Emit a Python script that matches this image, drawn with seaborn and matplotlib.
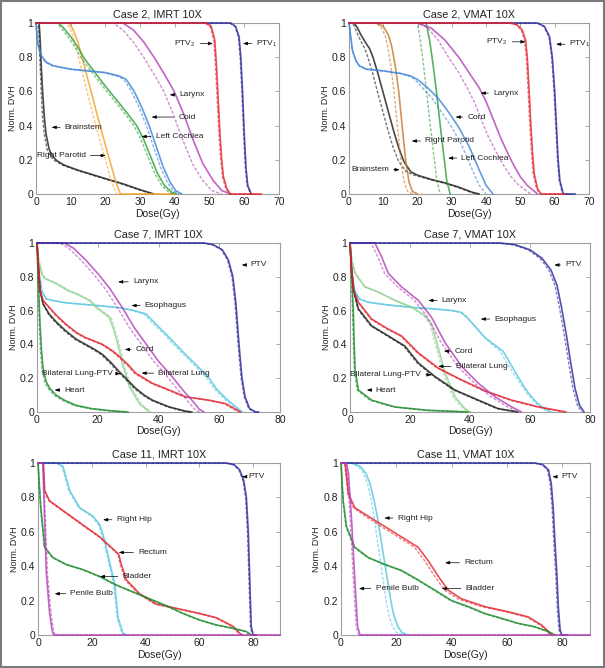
import numpy as np
import matplotlib
matplotlib.use("Agg")
import matplotlib.pyplot as plt
from matplotlib.patches import Rectangle
import seaborn as sns

# DVH curves: v = normalized DVH, d = dose (solid), dd = dose (dashed)

# ---- Case 2, IMRT ----
c2i_brainstem_v = [1, 1, 0.9, 0.75, 0.6, 0.45, 0.35, 0.26, 0.22, 0.195, 0.17, 0.14, 0.115, 0.09, 0.06, 0.025, 0]
c2i_brainstem_d = [0, 0.9, 1.2, 1.5, 1.9, 2.4, 2.9, 3.8, 4.8, 6, 8, 12, 16, 20, 25, 30, 34]
c2i_brainstem_dd = [0, 0.6, 0.9, 1.2, 1.5, 1.9, 2.4, 3.2, 4.2, 5.4, 7.5, 11.5, 15.5, 19.5, 24.5, 29.5, 33.5]
c2i_parotid_v = [1, 1, 0.97, 0.88, 0.72, 0.55, 0.38, 0.22, 0.07, 0, 0]
c2i_parotid_d = [0, 9.5, 10.5, 12.2, 14.3, 16.5, 18.7, 20.9, 23, 24.3, 40]
c2i_parotid_dd = [0, 8.8, 9.8, 11.3, 13.2, 15.3, 17.5, 19.7, 21.8, 23.2, 40]
c2i_cochlea_v = [1, 1, 0.97, 0.92, 0.86, 0.79, 0.71, 0.63, 0.555, 0.48, 0.40, 0.32, 0.22, 0.12, 0.05, 0.012, 0]
c2i_cochlea_d = [0, 6.5, 8, 10, 12, 14, 17, 20, 23, 26, 29, 31, 33, 35, 37, 39, 40.5]
c2i_cochlea_dd = [0, 6, 7.3, 9.2, 11.2, 13.2, 16.2, 19.2, 22.2, 25.2, 28.2, 30.2, 32.2, 34.2, 36.2, 38.2, 39.7]
c2i_cord_v = [1, 0.88, 0.81, 0.77, 0.75, 0.73, 0.72, 0.71, 0.69, 0.67, 0.6, 0.5, 0.4, 0.28, 0.16, 0.07, 0.02, 0]
c2i_cord_d = [0, 0.5, 1.5, 3, 5, 10, 15, 20, 24, 26, 28.3, 30.6, 32.6, 34.6, 36.6, 38.6, 40.2, 42]
c2i_cord_dd = [0, 0.4, 1.3, 2.7, 4.6, 9.5, 14.5, 19.5, 23.3, 25.3, 27.5, 29.8, 31.8, 33.8, 35.8, 37.8, 39.4, 41.2]
c2i_larynx_v = [1, 1, 0.96, 0.89, 0.8, 0.7, 0.6, 0.47, 0.32, 0.18, 0.08, 0.02, 0]
c2i_larynx_d = [0, 25, 28, 31, 34, 37, 39.8, 42.5, 45.2, 48, 51, 53.5, 56]
c2i_larynx_dd = [0, 22.2, 25, 28, 31, 34, 36.8, 39.5, 42.2, 45, 48, 50.7, 53.5]
c2i_ptv2_v = [1, 1, 0.98, 0.9, 0.75, 0.55, 0.35, 0.2, 0.1, 0.03, 0, 0]
c2i_ptv2_d = [0, 49, 50.5, 51.5, 52, 52.5, 53, 53.5, 54, 55, 56, 65]
c2i_ptv2_dd = [0, 48.7, 50.2, 51.2, 51.7, 52.2, 52.7, 53.2, 53.7, 54.7, 55.7, 64]
c2i_ptv1_v = [1, 1, 0.98, 0.92, 0.8, 0.6, 0.35, 0.15, 0.05, 0]
c2i_ptv1_d = [0, 56, 57.5, 58.5, 59, 59.5, 60, 60.5, 61, 62]
c2i_ptv1_dd = [0, 55.8, 57.3, 58.3, 58.8, 59.3, 59.8, 60.3, 60.8, 61.8]

# ---- Case 2, VMAT ----
c2v_brainstem_v = [1, 1, 0.97, 0.93, 0.88, 0.85, 0.8, 0.7, 0.59, 0.48, 0.37, 0.27, 0.19, 0.13, 0.11, 0.085, 0.065, 0.04, 0.01, 0]
c2v_brainstem_d = [0, 1.5, 2.5, 3.5, 5, 6, 7, 8.5, 10, 11.5, 13, 14.5, 16, 18, 20, 24, 28, 32, 36, 38]
c2v_brainstem_dd = [0, 1, 1.8, 2.6, 3.8, 4.6, 5.5, 7, 8.4, 9.9, 11.4, 12.9, 14.5, 16.7, 19, 23.5, 27.5, 31.5, 35.5, 37.5]
c2v_parotid_v = [1, 1, 0.98, 0.93, 0.86, 0.75, 0.6, 0.4, 0.2, 0.07, 0.015, 0]
c2v_parotid_d = [0, 8, 10, 11.5, 12.5, 13.5, 14.5, 15.5, 16.5, 17.5, 18.5, 20]
c2v_parotid_dd = [0, 7.5, 9.2, 10.5, 11.3, 12.2, 13.1, 14.1, 15.1, 16.1, 17.1, 18.5]
c2v_cochlea_v = [1, 1, 0.9, 0.76, 0.6, 0.42, 0.25, 0.08, 0]
c2v_cochlea_d = [0, 22.5, 23.5, 24.5, 25.5, 26.5, 27.5, 28.5, 29.5]
c2v_cochlea_dd = [0, 20, 20.8, 21.7, 22.6, 23.6, 24.6, 25.6, 26.6]
c2v_cord_v = [1, 0.92, 0.84, 0.78, 0.75, 0.73, 0.72, 0.705, 0.69, 0.67, 0.62, 0.56, 0.48, 0.39, 0.28, 0.14, 0.05, 0]
c2v_cord_d = [0, 0.5, 1, 2, 3, 5, 10, 15, 18, 20, 23, 26, 29, 32, 35, 38, 40, 42]
c2v_cord_dd = [0, 0.5, 1, 2, 3, 5, 10, 15, 17.5, 19.2, 21.5, 24.2, 27, 30, 33, 36, 38, 40]
c2v_larynx_v = [1, 1, 0.97, 0.9, 0.8, 0.71, 0.62, 0.54, 0.44, 0.34, 0.25, 0.17, 0.1, 0.05, 0]
c2v_larynx_d = [0, 20, 24, 28, 32, 35, 38, 40, 42, 44, 46, 48, 50, 52, 55]
c2v_larynx_dd = [0, 20, 23, 26, 29, 32, 34.5, 36.5, 38.5, 40.5, 42.8, 45, 47.3, 49.6, 53]
c2v_ptv2_v = [1, 1, 0.99, 0.96, 0.9, 0.8, 0.62, 0.42, 0.25, 0.12, 0.03, 0, 0]
c2v_ptv2_d = [0, 47, 49, 50.5, 51.5, 52, 52.5, 53, 53.5, 54, 55, 56, 63]
c2v_ptv2_dd = [0, 46.7, 48.7, 50.2, 51.2, 51.7, 52.2, 52.7, 53.2, 53.7, 54.7, 55.7, 62]
c2v_ptv1_v = [1, 1, 0.98, 0.92, 0.8, 0.6, 0.4, 0.2, 0.08, 0, 0]
c2v_ptv1_d = [0, 55, 57, 58.5, 59.3, 60, 60.5, 61, 61.5, 62.5, 66]
c2v_ptv1_dd = [0, 54.8, 56.8, 58.3, 59.1, 59.8, 60.3, 60.8, 61.3, 62.3, 65]

# ---- Case 7, IMRT ----
c7i_ptv_v = [1, 1, 0.99, 0.96, 0.9, 0.8, 0.64, 0.4, 0.2, 0.09, 0.02, 0, 0]
c7i_ptv_d = [0, 55, 58, 61, 63, 64.5, 65.5, 66.5, 67.5, 68.5, 70, 72, 73]
c7i_ptv_dd = [0, 54.7, 57.7, 60.7, 62.7, 64.2, 65.2, 66.2, 67.2, 68.2, 69.7, 71.5, 73]
c7i_larynx_v = [1, 1, 0.97, 0.9, 0.82, 0.73, 0.62, 0.5, 0.4, 0.3, 0.22, 0.13, 0.07, 0.015, 0]
c7i_larynx_d = [0, 9, 12, 16, 20, 24, 28, 32, 36, 40, 44, 48, 51, 53.5, 55]
c7i_larynx_dd = [0, 7.5, 10.4, 14.4, 18.4, 22.4, 26.4, 30.4, 34.4, 38.4, 42.4, 46.4, 49.4, 52, 53.5]
c7i_esoph_v = [1, 0.85, 0.72, 0.67, 0.66, 0.645, 0.63, 0.615, 0.6, 0.58, 0.53, 0.48, 0.44, 0.4, 0.35, 0.3, 0.25, 0.2, 0.14, 0.08, 0.03, 0]
c7i_esoph_d = [0, 0.5, 1.5, 3, 5, 10, 20, 28, 32, 35.9, 38.6, 41.4, 43.6, 45.7, 48.4, 51.2, 54, 56.7, 58.9, 62.2, 65.5, 67.6]
c7i_esoph_dd = [0, 0.5, 1.5, 3, 5, 10, 20, 27.5, 31.4, 35.2, 37.9, 40.7, 42.9, 45, 47.7, 50.5, 53.3, 56, 58.2, 61.5, 64.8, 67]
c7i_cord_v = [1, 0.9, 0.82, 0.79, 0.76, 0.72, 0.7, 0.66, 0.62, 0.59, 0.56, 0.5, 0.44, 0.36, 0.28, 0.15, 0.05, 0]
c7i_cord_d = [0, 0.5, 1.5, 2.5, 6.3, 10, 12.8, 17.2, 19.4, 21.6, 23.8, 25, 26, 27.2, 28.2, 30.4, 33.7, 37]
c7i_cord_dd = [0, 0.6, 1.8, 2.9, 6.8, 10.5, 13.3, 17.7, 19.9, 22.1, 24.3, 25.5, 26.5, 27.7, 28.7, 30.9, 34.2, 37.5]
c7i_lung_v = [1, 0.85, 0.72, 0.66, 0.62, 0.57, 0.52, 0.47, 0.44, 0.4, 0.36, 0.33, 0.28, 0.23, 0.17, 0.13, 0.09, 0.07, 0.05, 0.015, 0]
c7i_lung_d = [0, 0.5, 1, 2, 4, 6.5, 9.5, 13, 16, 21.6, 25, 27, 30, 32.5, 38, 43.5, 48.9, 56.6, 62, 65.5, 67]
c7i_lung_dd = [0, 0.5, 1, 2, 3.8, 6.2, 9.2, 12.6, 15.6, 21.2, 24.6, 26.6, 29.6, 32, 37.5, 43, 48.4, 56, 61.5, 65, 66.5]
c7i_lungptv_v = [1, 0.85, 0.72, 0.64, 0.58, 0.53, 0.48, 0.43, 0.4, 0.37, 0.34, 0.29, 0.24, 0.19, 0.14, 0.1, 0.07, 0.03, 0.005, 0]
c7i_lungptv_d = [0, 0.5, 1, 2, 4, 6.5, 9.5, 13, 16, 19, 21.6, 24.5, 27, 29.8, 32.5, 35.3, 38, 43.5, 48.9, 51]
c7i_lungptv_dd = [0, 0.5, 1, 2, 3.7, 6.1, 9, 12.5, 15.5, 18.5, 21.1, 24, 26.5, 29.3, 32, 34.8, 37.5, 43, 48.4, 50.5]
c7i_heart_v = [1, 0.85, 0.7, 0.52, 0.36, 0.26, 0.18, 0.14, 0.1, 0.07, 0.04, 0.02, 0.008, 0]
c7i_heart_d = [0, 0.3, 0.6, 1, 1.5, 2, 3, 4.2, 6.3, 9, 12.8, 18, 24, 30]
c7i_heart_dd = [0, 0.2, 0.45, 0.75, 1.15, 1.6, 2.5, 3.6, 5.6, 8.3, 12, 17, 23, 29]

# ---- Case 7, VMAT ----
c7v_ptv_v = [1, 1, 0.99, 0.96, 0.91, 0.84, 0.75, 0.62, 0.47, 0.3, 0.14, 0.04, 0]
c7v_ptv_d = [0, 50, 55, 60, 64, 67, 69, 70.5, 72, 73.5, 75, 76.5, 78]
c7v_ptv_dd = [0, 49.5, 54.3, 59.3, 63.3, 66.3, 68.3, 69.8, 71.3, 72.8, 74.3, 75.8, 77.3]
c7v_larynx_v = [1, 1, 0.92, 0.82, 0.74, 0.66, 0.56, 0.41, 0.27, 0.17, 0.09, 0.03, 0]
c7v_larynx_d = [0, 8.3, 10.5, 12.8, 17.2, 22.8, 27.2, 31.7, 37.2, 42.8, 48.3, 53.9, 57.2]
c7v_larynx_dd = [0, 7, 9.2, 11.5, 15.9, 21.5, 25.9, 30.4, 35.9, 41.5, 47, 52.6, 56]
c7v_esoph_v = [1, 0.85, 0.72, 0.67, 0.65, 0.635, 0.62, 0.61, 0.6, 0.59, 0.56, 0.52, 0.48, 0.44, 0.4, 0.36, 0.27, 0.21, 0.15, 0.1, 0.06, 0.03, 0]
c7v_esoph_d = [0, 0.5, 1.5, 3, 6, 12, 20, 28, 34, 37, 39, 41, 43, 45, 48, 51, 54, 56, 58, 60, 62, 64, 67]
c7v_esoph_dd = [0, 0.5, 1.5, 3, 6, 12, 20, 28, 34, 37, 39, 41, 43, 45, 47.3, 50, 53, 55.2, 57.4, 59.5, 61.5, 63.5, 66]
c7v_cord_v = [1, 0.9, 0.82, 0.74, 0.71, 0.66, 0.62, 0.57, 0.52, 0.38, 0.23, 0.09, 0.02, 0]
c7v_cord_d = [0, 0.6, 1.7, 5, 9.4, 15, 20.6, 25, 27.2, 29.4, 31.7, 35, 38.3, 40]
c7v_cord_dd = [0, 0.6, 1.7, 5, 9.4, 15, 20.6, 24.5, 26.6, 28.8, 31, 34.3, 37.6, 39.4]
c7v_lung_v = [1, 0.85, 0.72, 0.65, 0.55, 0.49, 0.45, 0.35, 0.26, 0.19, 0.125, 0.07, 0.03, 0.005, 0]
c7v_lung_d = [0, 0.5, 1.2, 2.8, 7.2, 12.8, 17.2, 22.8, 29.4, 37.2, 45, 53.9, 62.8, 70.6, 72]
c7v_lung_dd = [0, 0.5, 1.2, 2.6, 6.9, 12.4, 16.8, 22.4, 29, 36.8, 44.6, 53.4, 62.3, 70, 71.5]
c7v_lungptv_v = [1, 0.85, 0.72, 0.61, 0.51, 0.45, 0.39, 0.29, 0.21, 0.13, 0.07, 0.02, 0]
c7v_lungptv_d = [0, 0.5, 1.2, 2.8, 7.2, 12.8, 18.3, 22.8, 28.3, 35, 42.8, 49.4, 56]
c7v_lungptv_dd = [0, 0.5, 1.2, 2.6, 6.9, 12.4, 17.9, 22.4, 27.9, 34.6, 42.3, 49, 55.5]
c7v_heart_v = [1, 0.8, 0.6, 0.4, 0.25, 0.13, 0.07, 0.03, 0.01, 0]
c7v_heart_d = [0, 0.6, 1.1, 1.4, 1.7, 2.8, 7.2, 15, 26, 40]
c7v_heart_dd = [0, 0.45, 0.85, 1.15, 1.45, 2.4, 6.6, 14.3, 25, 39]

# ---- Case 11, IMRT ----
c11i_ptv_v = [1, 1, 0.99, 0.96, 0.9, 0.8, 0.6, 0.3, 0.05, 0, 0]
c11i_ptv_d = [0, 70, 73, 75, 76.5, 77.5, 78.2, 78.8, 79.3, 80, 81]
c11i_ptv_dd = [0, 69.7, 72.7, 74.7, 76.2, 77.2, 77.9, 78.5, 79, 79.7, 80.5]
c11i_hip_v = [1, 1, 0.98, 0.84, 0.74, 0.69, 0.64, 0.55, 0.42, 0.3, 0.1, 0.01, 0]
c11i_hip_d = [0, 7, 9.3, 11.8, 15.5, 20.5, 23, 24.8, 26.7, 28.5, 29.8, 31.6, 33]
c11i_hip_dd = [0, 6.6, 8.9, 11.4, 15.1, 20.1, 22.6, 24.4, 26.3, 28.1, 29.4, 31.2, 32.5]
c11i_rectum_v = [1, 1, 0.84, 0.78, 0.71, 0.64, 0.57, 0.5, 0.47, 0.41, 0.32, 0.24, 0.18, 0.155, 0.125, 0.1, 0.05, 0.01, 0]
c11i_rectum_d = [0, 2, 2.5, 4.3, 10.5, 16.7, 23, 27.9, 30, 31, 32.9, 37.8, 44, 51.5, 60.2, 66.4, 72.6, 75, 76]
c11i_rectum_dd = [0, 1.8, 2.3, 4, 10.2, 16.4, 22.7, 27.6, 29.7, 30.6, 32.4, 37.3, 43.5, 51, 59.7, 66, 72.2, 74.6, 75.6]
c11i_bladder_v = [1, 0.75, 0.51, 0.45, 0.41, 0.38, 0.34, 0.29, 0.25, 0.21, 0.17, 0.125, 0.087, 0.058, 0.039, 0.02, 0]
c11i_bladder_d = [0, 1, 2.5, 5.6, 10.5, 16.7, 23, 29.2, 35.4, 41.6, 47.8, 54, 60.2, 66.4, 72.6, 77.5, 79.4]
c11i_bladder_dd = [0, 0.9, 2.3, 5.3, 10.2, 16.4, 22.7, 28.9, 35.1, 41.3, 47.5, 53.7, 59.9, 66.1, 72.3, 77.2, 79]
c11i_bulb_v = [1, 1, 0.7, 0.36, 0.13, 0.03, 0, 0]
c11i_bulb_d = [0, 1.8, 2.4, 3.1, 4.3, 5.2, 5.8, 90]
c11i_bulb_dd = [0, 2, 2.7, 3.5, 4.8, 5.7, 6.3, 90]

# ---- Case 11, VMAT ----
c11v_ptv_v = [1, 1, 0.99, 0.96, 0.88, 0.74, 0.55, 0.36, 0.15, 0.03, 0, 0]
c11v_ptv_d = [0, 70, 73, 75, 76, 76.7, 77.3, 78, 78.6, 79.2, 79.8, 82]
c11v_ptv_dd = [0, 69.6, 72.6, 74.6, 75.6, 76.3, 76.9, 77.6, 78.2, 78.8, 79.4, 81.5]
c11v_hip_v = [1, 1, 0.98, 0.94, 0.88, 0.78, 0.7, 0.6, 0.5, 0.4, 0.3, 0.2, 0.12, 0.05, 0.015, 0]
c11v_hip_d = [0, 4, 7, 9, 10.5, 12, 13, 14, 15, 16, 17, 18, 19, 20.5, 22, 24]
c11v_hip_dd = [0, 3.5, 6.3, 8.2, 9.6, 11, 11.8, 12.7, 13.6, 14.5, 15.4, 16.3, 17.2, 18.6, 20, 22.5]
c11v_rectum_v = [1, 1, 0.82, 0.74, 0.69, 0.63, 0.57, 0.51, 0.43, 0.34, 0.26, 0.21, 0.165, 0.135, 0.105, 0.058, 0.02, 0]
c11v_rectum_d = [0, 1.5, 2.7, 5, 9.9, 15.9, 21.9, 27.9, 31.6, 35.2, 38.8, 43.6, 52, 60.5, 67.7, 72.5, 75, 76]
c11v_rectum_dd = [0, 1.3, 2.5, 4.5, 8.9, 14.6, 20.6, 26.6, 30.3, 33.9, 37.5, 42.3, 50.7, 59.5, 67, 72, 74.5, 75.5]
c11v_bladder_v = [1, 0.78, 0.63, 0.51, 0.45, 0.41, 0.375, 0.32, 0.26, 0.2, 0.165, 0.125, 0.097, 0.068, 0.048, 0.02, 0]
c11v_bladder_d = [0, 0.8, 2, 5, 9.9, 15.9, 21.9, 27.9, 34, 40, 46, 52, 58, 64, 70, 75, 77.3]
c11v_bladder_dd = [0, 0.7, 1.8, 4.7, 9.6, 15.6, 21.6, 27.6, 33.6, 39.6, 45.6, 51.6, 57.6, 63.6, 69.7, 74.7, 77]
c11v_bulb_v = [1, 1, 0.94, 0.65, 0.32, 0.05, 0, 0]
c11v_bulb_d = [0, 2, 2.7, 3.9, 5, 6, 6.9, 90]
c11v_bulb_dd = [0, 1.7, 2.3, 3.4, 4.5, 5.5, 6.4, 90]

# 색상
BLACK = "#1a1a1a"
ORANGE = "#f4a12a"
BROWN = "#c8762e"
GREEN = "#2f9e3a"
BLUE = "#3c82d6"
MAGENTA = "#b23fb5"
RED = "#e3222b"
NAVY = "#27279a"
CYAN = "#55c6e0"
LIGHTGREEN = "#8fd08f"
DARKGREEN = "#1c8a2c"

yticks = [0, 0.2, 0.4, 0.6, 0.8, 1]
ytick_labels = ["0", "0.2", "0.4", "0.6", "0.8", "1"]

# 스타일 설정
sns.set_style("white")
plt.rcParams["font.family"] = ["Liberation Sans", "DejaVu Sans"]
plt.rcParams["mathtext.fontset"] = "custom"
plt.rcParams["mathtext.rm"] = "Liberation Sans"
plt.rcParams["mathtext.it"] = "Liberation Sans"

fig = plt.figure(figsize=(6.05, 6.68), dpi=100)


def draw_panel(rect, title, curves, xmax, xticks, labels):
    ax = fig.add_axes(rect)
    for v, d, dd, color in curves:
        sns.lineplot(x=dd, y=v, ax=ax, color=color, lw=1.0, clip_on=False, alpha=0.6,
                     linestyle=(0, (2.2, 1.2)), sort=False, estimator=None)
        sns.lineplot(x=d, y=v, ax=ax, color=color, lw=1.2, clip_on=False, alpha=0.8,
                     sort=False, estimator=None)
    ax.set_xlim(0, xmax)
    ax.set_ylim(0, 1)
    ax.set_xticks(xticks)
    ax.set_xticklabels([str(t) for t in xticks])
    ax.set_yticks(yticks)
    ax.set_yticklabels(ytick_labels)
    ax.tick_params(direction="in", top=True, right=True, length=3, width=0.6,
                   colors="#9a9a9a", labelcolor="#222222", labelsize=7.5, pad=2)
    for s in ax.spines.values():
        s.set_color("#a0a0a0")
        s.set_linewidth(0.8)
        s.set_zorder(0.5)
    ax.set_title(title, fontsize=7.8, pad=4, color="#222222")
    ax.set_xlabel("Dose(Gy)", fontsize=7.5, color="#222222")
    ax.set_ylabel("Norm. DVH", fontsize=6.4, color="#222222")
    ax.xaxis.set_label_coords(0.5, -0.085)
    ax.yaxis.set_label_coords(-0.08, 0.5)
    # 화살표 라벨
    for text, tip, tx, ha in labels:
        ax.annotate(text, xy=tip, xytext=(tx, tip[1]), ha=ha, va="center",
                    fontsize=6, color="#222222",
                    arrowprops=dict(arrowstyle="-|>,head_length=0.45,head_width=0.16",
                                    color="black", lw=0.5, shrinkA=1, shrinkB=0))
    return ax


# Case 2, IMRT
draw_panel([36 / 605, 1 - 194 / 668, 243 / 605, 171 / 668], "Case 2, IMRT 10X",
           [(c2i_brainstem_v, c2i_brainstem_d, c2i_brainstem_dd, BLACK),
            (c2i_parotid_v, c2i_parotid_d, c2i_parotid_dd, ORANGE),
            (c2i_cochlea_v, c2i_cochlea_d, c2i_cochlea_dd, GREEN),
            (c2i_cord_v, c2i_cord_d, c2i_cord_dd, BLUE),
            (c2i_larynx_v, c2i_larynx_d, c2i_larynx_dd, MAGENTA),
            (c2i_ptv1_v, c2i_ptv1_d, c2i_ptv1_dd, NAVY),
            (c2i_ptv2_v, c2i_ptv2_d, c2i_ptv2_dd, RED)],
           70, [0, 10, 20, 30, 40, 50, 60, 70],
           [("PTV$_2$", (51, 0.88), 46, "right"),
            ("PTV$_1$", (59.6, 0.88), 63.5, "left"),
            ("Larynx", (38.5, 0.58), 41.4, "left"),
            ("Coid", (33.3, 0.45), 41, "left"),
            ("Left Cochlea", (30.4, 0.336), 34.5, "left"),
            ("Brainstem", (4.5, 0.39), 8.3, "left"),
            ("Right Parotid", (20.1, 0.225), 14.3, "right")])

# Case 2, VMAT
draw_panel([349 / 605, 1 - 194 / 668, 240 / 605, 171 / 668], "Case 2, VMAT 10X",
           [(c2v_brainstem_v, c2v_brainstem_d, c2v_brainstem_dd, BLACK),
            (c2v_parotid_v, c2v_parotid_d, c2v_parotid_dd, BROWN),
            (c2v_cochlea_v, c2v_cochlea_d, c2v_cochlea_dd, GREEN),
            (c2v_cord_v, c2v_cord_d, c2v_cord_dd, BLUE),
            (c2v_larynx_v, c2v_larynx_d, c2v_larynx_dd, MAGENTA),
            (c2v_ptv1_v, c2v_ptv1_d, c2v_ptv1_dd, NAVY),
            (c2v_ptv2_v, c2v_ptv2_d, c2v_ptv2_dd, RED)],
           70, [0, 10, 20, 30, 40, 50, 60, 70],
           [("PTV$_2$", (51.5, 0.89), 46.3, "right"),
            ("PTV$_1$", (60.4, 0.876), 64.3, "left"),
            ("Larynx", (38.4, 0.59), 42, "left"),
            ("Cord", (31.1, 0.45), 34.5, "left"),
            ("Right Parotid", (18.3, 0.31), 22.2, "left"),
            ("Left Cochlea", (28.9, 0.21), 32.8, "left"),
            ("Brainstem", (14.8, 0.142), 11.6, "right")])

# Case 7, IMRT
draw_panel([37 / 605, 1 - 412 / 668, 243 / 605, 169 / 668], "Case 7, IMRT 10X",
           [(c7i_heart_v, c7i_heart_d, c7i_heart_dd, DARKGREEN),
            (c7i_esoph_v, c7i_esoph_d, c7i_esoph_dd, CYAN),
            (c7i_cord_v, c7i_cord_d, c7i_cord_dd, LIGHTGREEN),
            (c7i_lungptv_v, c7i_lungptv_d, c7i_lungptv_dd, BLACK),
            (c7i_lung_v, c7i_lung_d, c7i_lung_dd, RED),
            (c7i_larynx_v, c7i_larynx_d, c7i_larynx_dd, MAGENTA),
            (c7i_ptv_v, c7i_ptv_d, c7i_ptv_dd, NAVY)],
           80, [0, 20, 40, 60, 80],
           [("PTV", (67.4, 0.87), 70.3, "left"),
            ("Larynx", (26.7, 0.77), 31.6, "left"),
            ("Esophagus", (31.1, 0.63), 35.5, "left"),
            ("Cord", (28.9, 0.37), 32.5, "left"),
            ("Bilateral Lung", (34.4, 0.23), 39.9, "left"),
            ("Bilateral Lung-PTV", (27.5, 0.227), 25, "right"),
            ("Heart", (5.8, 0.13), 8.9, "left")])

# Case 7, VMAT
draw_panel([350 / 605, 1 - 412 / 668, 240 / 605, 169 / 668], "Case 7, VMAT 10X",
           [(c7v_heart_v, c7v_heart_d, c7v_heart_dd, DARKGREEN),
            (c7v_esoph_v, c7v_esoph_d, c7v_esoph_dd, CYAN),
            (c7v_cord_v, c7v_cord_d, c7v_cord_dd, LIGHTGREEN),
            (c7v_lungptv_v, c7v_lungptv_d, c7v_lungptv_dd, BLACK),
            (c7v_lung_v, c7v_lung_d, c7v_lung_dd, RED),
            (c7v_larynx_v, c7v_larynx_d, c7v_larynx_dd, MAGENTA),
            (c7v_ptv_v, c7v_ptv_d, c7v_ptv_dd, NAVY)],
           80, [0, 20, 40, 60, 80],
           [("PTV", (68.1, 0.87), 71.7, "left"),
            ("Larynx", (26.1, 0.66), 30.6, "left"),
            ("Esophagus", (43.6, 0.55), 48.1, "left"),
            ("Cord", (31.3, 0.36), 35, "left"),
            ("Bilateral Lung", (29.4, 0.27), 35.2, "left"),
            ("Bilateral Lung-PTV", (27.2, 0.22), 23.7, "right"),
            ("Heart", (5.6, 0.13), 8.6, "left")])

# Case 11, IMRT
draw_panel([38 / 605, 1 - 635 / 668, 242 / 605, 172 / 668], "Case 11, IMRT 10X",
           [(c11i_hip_v, c11i_hip_d, c11i_hip_dd, CYAN),
            (c11i_rectum_v, c11i_rectum_d, c11i_rectum_dd, RED),
            (c11i_bladder_v, c11i_bladder_d, c11i_bladder_dd, DARKGREEN),
            (c11i_ptv_v, c11i_ptv_d, c11i_ptv_dd, NAVY),
            (c11i_bulb_v, c11i_bulb_d, c11i_bulb_dd, MAGENTA)],
           90, [0, 20, 40, 60, 80],
           [("PTV", (75.9, 0.92), 78.2, "left"),
            ("Right Hip", (24.2, 0.67), 29.2, "left"),
            ("Rectum", (30, 0.48), 37.2, "left"),
            ("Bladder", (23, 0.34), 31.4, "left"),
            ("Penile Bulb", (6.2, 0.24), 12, "left")])

# Case 11, VMAT
draw_panel([341 / 605, 1 - 635 / 668, 249 / 605, 172 / 668], "Case 11, VMAT 10X",
           [(c11v_hip_v, c11v_hip_d, c11v_hip_dd, CYAN),
            (c11v_rectum_v, c11v_rectum_d, c11v_rectum_dd, RED),
            (c11v_bladder_v, c11v_bladder_d, c11v_bladder_dd, DARKGREEN),
            (c11v_ptv_v, c11v_ptv_d, c11v_ptv_dd, NAVY),
            (c11v_bulb_v, c11v_bulb_d, c11v_bulb_dd, MAGENTA)],
           90, [0, 20, 40, 60, 80],
           [("PTV", (76.4, 0.92), 79.5, "left"),
            ("Right Hip", (15.7, 0.68), 20.5, "left"),
            ("Rectum", (37.6, 0.42), 44.5, "left"),
            ("Bladder", (36.4, 0.27), 45, "left"),
            ("Penile Bulb", (6.5, 0.27), 12.5, "left")])

# 바깥 테두리
fig.patches.append(Rectangle((0.002, 0.002), 0.996, 0.996, transform=fig.transFigure,
                             fill=False, edgecolor="#7a7a7a", lw=1.5))

fig.savefig("out.png", dpi=100)
